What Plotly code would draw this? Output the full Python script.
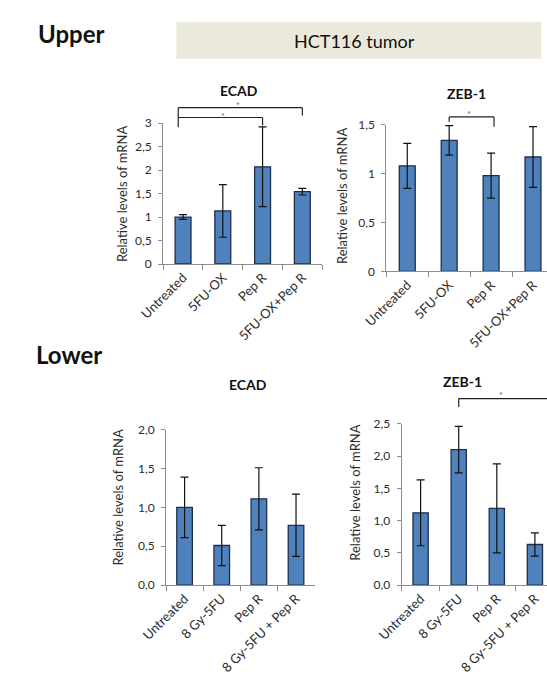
import plotly.graph_objects as go

W, H = 547, 689

# ---------------- data ----------------
upper_categories = ["Untreated", "5FU-OX", "Pep R", "5FU-OX+Pep R"]
lower_categories = ["Untreated", "8 Gy-5FU", "Pep R", "8 Gy-5FU + Pep R"]

upper_ecad_mean = [1.00, 1.13, 2.07, 1.54]
upper_ecad_err = [0.05, 0.56, 0.85, 0.07]

upper_zeb_mean = [1.08, 1.34, 0.98, 1.17]
upper_zeb_err = [0.23, 0.15, 0.23, 0.31]

lower_ecad_mean = [1.00, 0.51, 1.11, 0.77]
lower_ecad_err = [0.39, 0.26, 0.40, 0.40]

lower_zeb_mean = [1.12, 2.10, 1.19, 0.63]
lower_zeb_err = [0.51, 0.36, 0.69, 0.18]

# significance brackets (category-index / data units):
# (from x, to x, top level, left leg end, right leg end, star x, star level)
upper_ecad_brackets = [(-0.12, 3.0, 3.33, 3.12, 3.16, 1.37, 3.43),
                       (-0.12, 2.0, 3.12, 2.91, 2.95, 1.00, 3.20)]
upper_zeb_brackets = [(1.0, 2.07, 1.58, 1.53, 1.48, 1.48, 1.63)]
lower_ecad_brackets = []
lower_zeb_brackets = [(1.0, 4.0, 2.89, 2.76, None, 2.1, 2.98)]

# ---------------- style ----------------
FONT = "Lato"
BAR_FILL = "#4f81bd"
BAR_LINE = "#1d2f4c"
AXIS_COL = "#8c8c8c"
TEXT_COL = "#2b2b2b"

panels = [
    dict(name="ECAD", cats=upper_categories, mean=upper_ecad_mean, err=upper_ecad_err,
         brackets=upper_ecad_brackets, x0=144, band=41.75, right=311, ybot=261.7, ytop=117.7,
         yr=[0, 3], dtick=0.5, fmt="", bw=0.40, title_xy=(224, 84), ytitle_xy=(101, 190)),
    dict(name="ZEB-1", cats=upper_categories, mean=upper_zeb_mean, err=upper_zeb_err,
         brackets=upper_zeb_brackets, x0=378.3, band=44, right=554, ybot=269.3, ytop=119.3,
         yr=[0, 1.5], dtick=0.5, fmt="", bw=0.38, title_xy=(462, 87), ytitle_xy=(332, 192)),
    dict(name="ECAD", cats=lower_categories, mean=lower_ecad_mean, err=lower_ecad_err,
         brackets=lower_ecad_brackets, x0=147, band=39, right=303, ybot=590, ytop=431,
         yr=[0, 2.0], dtick=0.5, fmt=".1f", bw=0.42, title_xy=(233, 385), ytitle_xy=(97, 500)),
    dict(name="ZEB-1", cats=lower_categories, mean=lower_zeb_mean, err=lower_zeb_err,
         brackets=lower_zeb_brackets, x0=394.3, band=40, right=554, ybot=590, ytop=425,
         yr=[0, 2.5], dtick=0.5, fmt=".1f", bw=0.40, title_xy=(458, 382), ytitle_xy=(346, 496)),
]


def px(x):
    return x / W


def py(y):
    return 1 - y / H


fig = go.Figure()
shapes = []
annotations = []
layout_axes = {}

for k, p in enumerate(panels):
    idx = "" if k == 0 else str(k + 1)
    xa, ya = "x" + idx, "y" + idx
    right = min(p["right"], W)
    xr = [-0.5, -0.5 + (right - p["x0"]) / p["band"]]
    xdom = [px(p["x0"]), px(right)]
    ydom = [py(p["ybot"]), py(p["ytop"])]

    fig.add_trace(go.Bar(
        x=p["cats"], y=p["mean"], xaxis=xa, yaxis=ya, width=p["bw"],
        marker=dict(color=BAR_FILL, line=dict(color=BAR_LINE, width=1.3)),
        error_y=dict(type="data", array=p["err"], visible=True, color="#111111",
                     thickness=1.2, width=4),
        showlegend=False, hoverinfo="skip",
    ))

    layout_axes["xaxis" + idx] = dict(
        domain=xdom, range=xr, anchor=ya, type="category",
        categoryorder="array", categoryarray=p["cats"],
        showline=True, linecolor=AXIS_COL, linewidth=1,
        ticks="outside", tickson="boundaries", ticklen=5, tickcolor=AXIS_COL,
        tickangle=-45, tickfont=dict(family=FONT, size=13, color=TEXT_COL),
        showgrid=False, zeroline=False, fixedrange=True,
    )
    layout_axes["yaxis" + idx] = dict(
        domain=ydom, range=p["yr"], anchor=xa, dtick=p["dtick"], tick0=0,
        tickformat=p["fmt"],
        showline=True, linecolor=AXIS_COL, linewidth=1,
        ticks="outside", ticklen=4, tickcolor=AXIS_COL, ticklabelstandoff=4,
        tickfont=dict(family=FONT, size=12, color=TEXT_COL),
        showgrid=False, zeroline=False, fixedrange=True,
    )

    def level(v, p=p, ydom=ydom):
        return ydom[0] + (v - p["yr"][0]) / (p["yr"][1] - p["yr"][0]) * (ydom[1] - ydom[0])

    for (b0, b1, top, lend, rend, sx, sy) in p["brackets"]:
        line = dict(color="#222222", width=1.2)
        shapes.append(dict(type="line", xref=xa, yref="paper", x0=b0, x1=b1,
                           y0=level(top), y1=level(top), line=line))
        shapes.append(dict(type="line", xref=xa, yref="paper", x0=b0, x1=b0,
                           y0=level(top), y1=level(lend), line=line))
        if rend is not None:
            shapes.append(dict(type="line", xref=xa, yref="paper", x0=b1, x1=b1,
                               y0=level(top), y1=level(rend), line=line))
        annotations.append(dict(text="*", xref=xa, yref="paper", x=sx, y=level(sy),
                                yanchor="middle", showarrow=False, yshift=-2.3,
                                borderpad=0, borderwidth=0,
                                font=dict(family=FONT, size=9, color="#666666")))

    annotations.append(dict(text="<b>%s</b>" % p["name"], xref="paper", yref="paper",
                            x=px(p["title_xy"][0]), y=py(p["title_xy"][1]),
                            xanchor="center", yanchor="middle", showarrow=False,
                            borderpad=0, borderwidth=0,
                            font=dict(family=FONT, size=14, color="#111111")))
    annotations.append(dict(text="Relative levels of mRNA", xref="paper", yref="paper",
                            x=px(p["ytitle_xy"][0]), y=py(p["ytitle_xy"][1]),
                            xanchor="center", yanchor="middle", textangle=-90, showarrow=False,
                            borderpad=0, borderwidth=0,
                            font=dict(family=FONT, size=13, color=TEXT_COL)))

# header
shapes.append(dict(type="rect", xref="paper", yref="paper", x0=px(158), x1=px(541),
                   y0=py(52), y1=py(14), fillcolor="#ebe9dc", line=dict(width=0), layer="below"))
annotations.append(dict(text="HCT116 tumor", xref="paper", yref="paper", x=px(345), y=py(34),
                        xanchor="center", yanchor="middle", showarrow=False,
                        font=dict(family=FONT, size=18, color="#111111")))
annotations.append(dict(text="<b>Upper</b>", xref="paper", yref="paper", x=px(10), y=py(26),
                        xanchor="left", yanchor="middle", showarrow=False,
                        font=dict(family=FONT, size=24, color="#111111")))
annotations.append(dict(text="<b>Lower</b>", xref="paper", yref="paper", x=px(8), y=py(354),
                        xanchor="left", yanchor="middle", showarrow=False,
                        font=dict(family=FONT, size=24, color="#111111")))

fig.update_layout(
    width=W, height=H, margin=dict(l=0, r=0, t=0, b=0),
    paper_bgcolor="white", plot_bgcolor="white",
    separators=", ", font=dict(family=FONT, color=TEXT_COL),
    shapes=shapes, annotations=annotations, showlegend=False,
    **layout_axes,
)

fig.write_html("out.html", config=dict(displayModeBar=False))
